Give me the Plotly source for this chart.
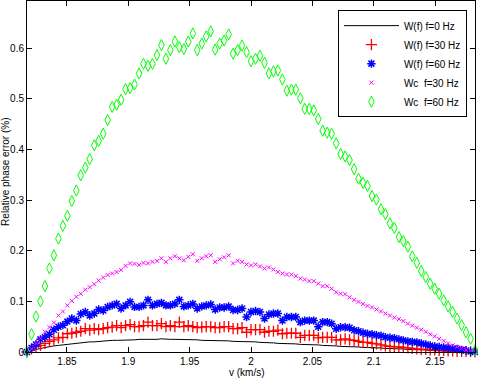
import plotly.graph_objects as go

# velocity grid (km/s)
v = [1.8175, 1.8212, 1.8248, 1.8285, 1.8321, 1.8358, 1.8394, 1.8431, 1.8467, 1.8504,
     1.8540, 1.8577, 1.8613, 1.8650, 1.8686, 1.8723, 1.8759, 1.8796, 1.8832, 1.8869,
     1.8905, 1.8942, 1.8978, 1.9015, 1.9051, 1.9088, 1.9124, 1.9161, 1.9197, 1.9234,
     1.9270, 1.9307, 1.9343, 1.9380, 1.9416, 1.9453, 1.9489, 1.9526, 1.9562, 1.9599,
     1.9635, 1.9672, 1.9708, 1.9745, 1.9781, 1.9818, 1.9854, 1.9891, 1.9927, 1.9964,
     2.0000, 2.0037, 2.0073, 2.0110, 2.0146, 2.0183, 2.0219, 2.0256, 2.0292, 2.0329,
     2.0365, 2.0402, 2.0438, 2.0475, 2.0511, 2.0548, 2.0584, 2.0621, 2.0657, 2.0694,
     2.0730, 2.0767, 2.0803, 2.0840, 2.0876, 2.0913, 2.0949, 2.0986, 2.1022, 2.1059,
     2.1095, 2.1132, 2.1168, 2.1205, 2.1241, 2.1278, 2.1314, 2.1351, 2.1387, 2.1424,
     2.1460, 2.1497, 2.1533, 2.1570, 2.1606, 2.1643, 2.1679, 2.1716, 2.1752, 2.1789,
     2.1825]

# W(f), f=0 Hz (line)
w_f0 = [0, 0.003, 0.005, 0.007, 0.009, 0.010, 0.012, 0.013, 0.014, 0.016,
        0.017, 0.017, 0.018, 0.019, 0.020, 0.020, 0.021, 0.022, 0.022, 0.023,
        0.023, 0.023, 0.024, 0.024, 0.024, 0.025, 0.025, 0.024, 0.025, 0.025,
        0.026, 0.025, 0.025, 0.025, 0.025, 0.024, 0.024, 0.024, 0.024, 0.023,
        0.023, 0.023, 0.023, 0.022, 0.022, 0.022, 0.021, 0.021, 0.021, 0.020,
        0.020, 0.020, 0.019, 0.019, 0.018, 0.018, 0.017, 0.017, 0.017, 0.016,
        0.016, 0.015, 0.015, 0.014, 0.014, 0.014, 0.013, 0.013, 0.012, 0.012,
        0.011, 0.011, 0.011, 0.010, 0.010, 0.009, 0.009, 0.009, 0.008, 0.008,
        0.007, 0.007, 0.006, 0.006, 0.006, 0.005, 0.005, 0.004, 0.004, 0.004,
        0.003, 0.003, 0.003, 0.002, 0.002, 0.002, 0.001, 0.001, 0.001, 0.0005,
        0]

# W(f), f=30 Hz
w_f30 = [0, 0.006, 0.011, 0.013, 0.017, 0.021, 0.024, 0.028, 0.029, 0.036,
         0.037, 0.039, 0.041, 0.046, 0.043, 0.046, 0.044, 0.046, 0.048, 0.049,
         0.052, 0.048, 0.052, 0.054, 0.050, 0.050, 0.052, 0.059, 0.052, 0.052,
         0.056, 0.050, 0.052, 0.050, 0.059, 0.050, 0.052, 0.050, 0.048, 0.049,
         0.050, 0.050, 0.048, 0.048, 0.050, 0.050, 0.046, 0.046, 0.048, 0.039,
         0.044, 0.044, 0.044, 0.039, 0.041, 0.041, 0.043, 0.036, 0.037, 0.037,
         0.037, 0.029, 0.033, 0.033, 0.033, 0.028, 0.029, 0.029, 0.029, 0.024,
         0.024, 0.026, 0.024, 0.023, 0.021, 0.019, 0.019, 0.017, 0.016, 0.014,
         0.012, 0.011, 0.010, 0.010, 0.009, 0.008, 0.007, 0.006, 0.005, 0.005,
         0.004, 0.004, 0.003, 0.003, 0.002, 0.002, 0.001, 0.001, 0.001, 0.0005,
         0]

# W(f), f=60 Hz
w_f60 = [0, 0.008, 0.015, 0.025, 0.029, 0.035, 0.044, 0.050, 0.053, 0.060,
         0.066, 0.062, 0.075, 0.079, 0.072, 0.076, 0.084, 0.082, 0.089, 0.092,
         0.095, 0.086, 0.092, 0.099, 0.089, 0.089, 0.092, 0.103, 0.092, 0.095,
         0.097, 0.092, 0.092, 0.095, 0.103, 0.090, 0.092, 0.095, 0.086, 0.090,
         0.092, 0.094, 0.084, 0.088, 0.088, 0.090, 0.083, 0.083, 0.086, 0.069,
         0.079, 0.081, 0.079, 0.066, 0.074, 0.076, 0.076, 0.062, 0.069, 0.069,
         0.069, 0.059, 0.062, 0.062, 0.062, 0.050, 0.059, 0.059, 0.056, 0.046,
         0.049, 0.049, 0.048, 0.043, 0.041, 0.038, 0.036, 0.035, 0.033, 0.032,
         0.029, 0.028, 0.027, 0.025, 0.023, 0.021, 0.020, 0.019, 0.017, 0.015,
         0.013, 0.011, 0.010, 0.009, 0.008, 0.007, 0.006, 0.004, 0.003, 0.001,
         0]

# Wc, f=30 Hz
wc_f30 = [0, 0.006, 0.017, 0.027, 0.040, 0.049, 0.058, 0.072, 0.080, 0.092,
          0.101, 0.109, 0.115, 0.123, 0.128, 0.134, 0.141, 0.147, 0.152, 0.155,
          0.158, 0.162, 0.170, 0.175, 0.174, 0.172, 0.176, 0.175, 0.178, 0.180,
          0.185, 0.178, 0.185, 0.189, 0.185, 0.181, 0.188, 0.193, 0.180, 0.185,
          0.189, 0.191, 0.178, 0.183, 0.187, 0.191, 0.175, 0.180, 0.178, 0.173,
          0.171, 0.173, 0.169, 0.165, 0.167, 0.163, 0.158, 0.155, 0.153, 0.153,
          0.150, 0.145, 0.143, 0.140, 0.140, 0.135, 0.130, 0.130, 0.125, 0.118,
          0.115, 0.114, 0.108, 0.103, 0.099, 0.095, 0.091, 0.088, 0.084, 0.080,
          0.076, 0.072, 0.068, 0.065, 0.061, 0.056, 0.052, 0.048, 0.044, 0.040,
          0.035, 0.031, 0.026, 0.022, 0.017, 0.013, 0.010, 0.007, 0.004, 0.002,
          0]

# Wc, f=60 Hz
wc_f60 = [0, 0.035, 0.070, 0.100, 0.130, 0.165, 0.191, 0.224, 0.249, 0.269,
          0.298, 0.319, 0.349, 0.364, 0.381, 0.408, 0.417, 0.431, 0.458, 0.484,
          0.488, 0.498, 0.519, 0.521, 0.528, 0.550, 0.569, 0.565, 0.569, 0.586,
          0.606, 0.579, 0.596, 0.613, 0.602, 0.598, 0.613, 0.629, 0.596, 0.609,
          0.623, 0.633, 0.597, 0.609, 0.615, 0.627, 0.589, 0.596, 0.605, 0.592,
          0.574, 0.579, 0.585, 0.571, 0.550, 0.554, 0.556, 0.538, 0.516, 0.518,
          0.518, 0.501, 0.480, 0.480, 0.477, 0.460, 0.437, 0.433, 0.431, 0.412,
          0.391, 0.386, 0.379, 0.361, 0.342, 0.334, 0.328, 0.308, 0.301, 0.282,
          0.272, 0.254, 0.245, 0.227, 0.219, 0.208, 0.189, 0.176, 0.160, 0.148,
          0.135, 0.125, 0.115, 0.102, 0.090, 0.079, 0.066, 0.053, 0.039, 0.026,
          0.003]

x_tickvals = [1.85, 1.9, 1.95, 2.0, 2.05, 2.1, 2.15]
x_ticktext = ["1.85", "1.9", "1.95", "2", "2.05", "2.1", "2.15"]
y_tickvals = [0, 0.1, 0.2, 0.3, 0.4, 0.5, 0.6]
y_ticktext = ["0", "0.1", "0.2", "0.3", "0.4", "0.5", "0.6"]

FONT = "Liberation Sans, Arial, Helvetica, sans-serif"

fig = go.Figure()
fig.add_trace(go.Scatter(x=v, y=w_f0, mode="lines", name="W(f) f=0 Hz",
                         line=dict(color="black", width=1), cliponaxis=False))
fig.add_trace(go.Scatter(x=v, y=w_f30, mode="markers", name="W(f) f=30 Hz",
                         marker=dict(symbol="cross-thin-open", size=8, color="#ff0000",
                                     line=dict(color="#ff0000", width=1.3)), cliponaxis=False))
fig.add_trace(go.Scatter(x=v, y=w_f60, mode="markers", name="W(f) f=60 Hz",
                         marker=dict(symbol="asterisk-open", size=7, color="#0000ff",
                                     line=dict(color="#0000ff", width=1.5)), cliponaxis=False))
fig.add_trace(go.Scatter(x=v, y=wc_f30, mode="markers", name="Wc  f=30 Hz",
                         marker=dict(symbol="x-thin-open", size=4, color="#ff00ff",
                                     line=dict(color="#ff00ff", width=1)), cliponaxis=False))
fig.add_trace(go.Scatter(x=v, y=wc_f60, mode="markers", name="Wc  f=60 Hz",
                         marker=dict(symbol="diamond-tall-open", size=8, color="#00ff00",
                                     line=dict(color="#00ff00", width=1)), cliponaxis=False))

fig.update_layout(
    width=478, height=378,
    margin=dict(l=27, r=3, t=1, b=26),
    paper_bgcolor="white", plot_bgcolor="white",
    font=dict(family=FONT, size=10, color="black"),
    showlegend=True,
    legend=dict(x=0.982, y=0.974, xanchor="right", yanchor="top",
                bgcolor="white", bordercolor="black", borderwidth=1,
                font=dict(family=FONT, size=10, color="black"),
                itemwidth=55, tracegroupgap=0),
    annotations=[
        dict(text="Relative phase error (%)", xref="paper", yref="paper",
             x=-0.047, y=0.513, xanchor="center", yanchor="middle",
             textangle=-90, showarrow=False, font=dict(family=FONT, size=10)),
        dict(text="v (km/s)", xref="paper", yref="paper",
             x=0.491, y=-0.059, xanchor="center", yanchor="middle",
             showarrow=False, font=dict(family=FONT, size=10)),
    ],
)
fig.update_xaxes(range=[1.8175, 2.1825], tickvals=x_tickvals, ticktext=x_ticktext,
                 ticks="inside", ticklen=5, tickcolor="black", showline=True,
                 linecolor="black", linewidth=1, mirror="ticks", showgrid=False,
                 zeroline=False, tickfont=dict(family=FONT, size=10))
fig.update_yaxes(range=[0, 0.693], tickvals=y_tickvals, ticktext=y_ticktext,
                 ticks="inside", ticklen=5, tickcolor="black", showline=True,
                 linecolor="black", linewidth=1, mirror="ticks", showgrid=False,
                 zeroline=False, tickfont=dict(family=FONT, size=10))

fig.write_html("out.html", config={"displayModeBar": False},
               post_script="document.body.style.margin='0';document.body.style.padding='0';document.body.style.overflow='hidden';")
